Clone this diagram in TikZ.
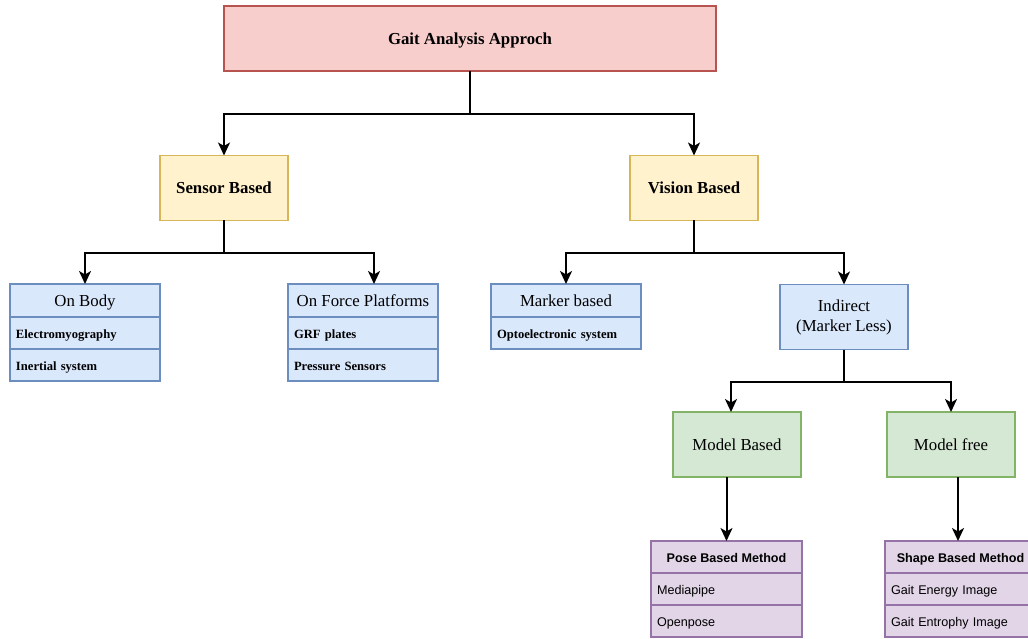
\documentclass[tikz,border=0pt]{standalone}
\usepackage{fontspec}
\setmainfont{Liberation Serif}
\newfontfamily\sansf{Liberation Sans}
\usetikzlibrary{arrows.meta,calc}
\definecolor{redf}{HTML}{F8CECC}\definecolor{redd}{HTML}{B85450}
\definecolor{yelf}{HTML}{FFF2CC}\definecolor{yeld}{HTML}{D6B656}
\definecolor{bluf}{HTML}{DAE8FC}\definecolor{blud}{HTML}{6C8EBF}
\definecolor{grnf}{HTML}{D5E8D4}\definecolor{grnd}{HTML}{82B366}
\definecolor{purf}{HTML}{E1D5E7}\definecolor{purd}{HTML}{9673A6}
\begin{document}
\begin{tikzpicture}[x=1pt,y=-1pt,
  bx/.style={draw, line width=1.7pt, inner sep=0pt, outer sep=0pt, align=center},
  bigline/.style={text height=12pt, text depth=0pt},
  smallline/.style={text height=11pt, text depth=0pt},
  sansline/.style={text height=10pt, text depth=0pt},
  big/.style={font=\fontsize{16.8}{20}\selectfont},
  bigb/.style={font=\fontsize{16.8}{20}\selectfont\bfseries},
  redbox/.style={bx, bigline, fill=redf, draw=redd, minimum width=492pt, minimum height=65pt, bigb},
  yelbox/.style={bx, bigline, fill=yelf, draw=yeld, minimum width=128pt, minimum height=65pt, bigb},
  grnbox/.style={bx, bigline, fill=grnf, draw=grnd, minimum width=128pt, minimum height=65pt, big},
  blubox/.style={bx, fill=bluf, draw=blud, minimum width=128pt, minimum height=65pt, big},
  bhead/.style={bx, bigline, fill=bluf, draw=blud, minimum width=150pt, minimum height=33pt, big, anchor=north west},
  brow/.style={draw, smallline, line width=1.7pt, outer sep=0pt, fill=bluf, draw=blud, inner xsep=6pt, inner ysep=0pt, text width=138pt, align=left, minimum height=32pt, anchor=north west, font=\fontsize{12.6}{15}\selectfont\bfseries},
  phead/.style={bx, sansline, fill=purf, draw=purd, minimum width=151pt, minimum height=32pt, anchor=north west, font=\sansf\fontsize{12.6}{15}\selectfont\bfseries},
  prow/.style={draw, sansline, line width=1.7pt, outer sep=0pt, fill=purf, draw=purd, inner xsep=6pt, inner ysep=0pt, text width=139pt, align=left, minimum height=32pt, anchor=north west, font=\sansf\fontsize{12.6}{15}\selectfont},
  arr/.style={line width=2pt, -{Stealth[length=13pt,width=12pt,inset=3.5pt]}}
]
\fill[white] (0,0) rectangle (1028,639);
\useasboundingbox (0,0) rectangle (1028,639);

\node[redbox] (top) at (470,38.5) {Gait Analysis Approch};
\node[yelbox] (sensor) at (224,188) {Sensor Based};
\node[yelbox] (vision) at (694,188) {Vision Based};

\node[bhead] (obh) at (10,284) {On Body};
\node[brow] (ob1) at (obh.south west) {Electromyography};
\node[brow] (ob2) at (ob1.south west) {Inertial system};

\node[bhead] (fph) at (288,284) {On Force Platforms};
\node[brow] (fp1) at (fph.south west) {GRF plates};
\node[brow] (fp2) at (fp1.south west) {Pressure Sensors};

\node[bhead] (mkh) at (491,284) {Marker based};
\node[brow] (mk1) at (mkh.south west) {Optoelectronic system};

\node[blubox] (ind) at (844,317) {Indirect\\(Marker Less)};

\node[grnbox] (mb) at (737,444.5) {Model Based};
\node[grnbox] (mf) at (951,444.5) {Model free};

\node[phead] (ph) at (651,541) {Pose Based Method};
\node[prow] (p1) at (ph.south west) {Mediapipe};
\node[prow] (p2) at (p1.south west) {Openpose};

\node[phead] (sh) at (885,541) {Shape Based Method};
\node[prow] (s1) at (sh.south west) {Gait Energy Image};
\node[prow] (s2) at (s1.south west) {Gait Entrophy Image};

% connectors
\draw[arr] (top.south) -- ++(0,43) -| (sensor.north);
\draw[arr] (top.south) -- ++(0,43) -| (vision.north);
\draw[arr] (sensor.south) -- ++(0,32) -| (obh.north);
\draw[arr] (sensor.south) -- ++(0,32) -| ([xshift=11pt]fph.north);
\draw[arr] (vision.south) -- ++(0,32) -| (mkh.north);
\draw[arr] (vision.south) -- ++(0,32) -| (ind.north);
\draw[arr] (ind.south) -- ++(0,32) -| ([xshift=-6pt]mb.north);
\draw[arr] (ind.south) -- ++(0,32) -| (mf.north);
\draw[arr] (ph.north |- mb.south) -- (ph.north);
\draw[arr] ([xshift=7pt]mf.south) -- ([xshift=7pt]mf.south |- sh.north);
\end{tikzpicture}
\end{document}
